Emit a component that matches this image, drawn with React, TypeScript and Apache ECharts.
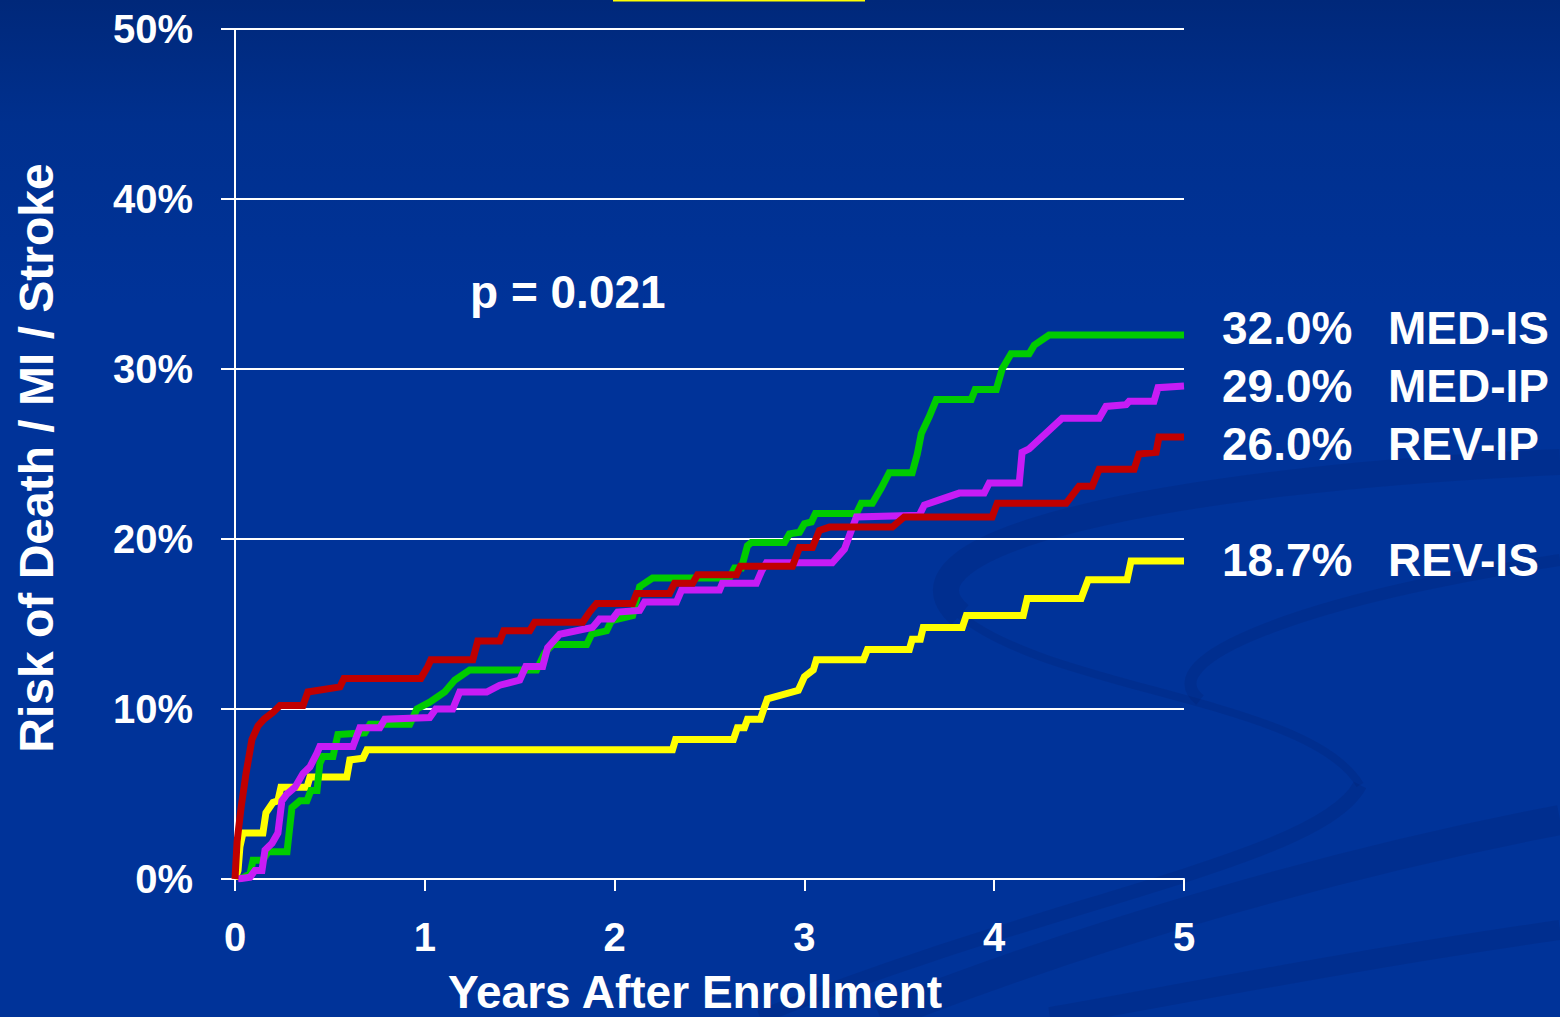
import React, { useEffect, useRef } from "react";
import * as echarts from "echarts";

// ---- Data (years after enrollment, cumulative risk %) ----
const yearTicks = [0, 1, 2, 3, 4, 5];
const riskTicks = [0, 10, 20, 30, 40, 50];

const medIsYears = [0.026, 0.079, 0.095, 0.147, 0.174, 0.274, 0.3, 0.342, 0.379, 0.4, 0.432, 0.447, 0.463, 0.516, 0.542, 0.684, 0.711, 0.921, 0.958, 1.026, 1.105, 1.158, 1.237, 1.589, 1.632, 1.674, 1.853, 1.879, 1.958, 1.984, 2.095, 2.132, 2.2, 2.605, 2.632, 2.668, 2.7, 2.721, 2.895, 2.921, 2.974, 3.0, 3.037, 3.058, 3.274, 3.3, 3.358, 3.405, 3.447, 3.568, 3.595, 3.616, 3.658, 3.695, 3.879, 3.9, 4.011, 4.042, 4.089, 4.184, 4.211, 4.289, 5.0];
const medIsRisk = [0, 0.3, 1.1, 1.1, 1.6, 1.6, 4.2, 4.6, 4.6, 5.2, 5.2, 6.8, 7.2, 7.2, 8.5, 8.6, 9.1, 9.1, 10.0, 10.4, 11.0, 11.7, 12.3, 12.3, 13.3, 13.8, 13.8, 14.4, 14.6, 15.2, 15.5, 17.2, 17.7, 17.7, 18.3, 18.3, 19.6, 19.8, 19.8, 20.3, 20.4, 20.9, 21.0, 21.5, 21.5, 22.1, 22.1, 23.0, 23.9, 23.9, 25.0, 26.2, 27.2, 28.2, 28.2, 28.8, 28.8, 30.0, 30.9, 30.9, 31.4, 32.0, 32.0];

const medIpYears = [0.016, 0.079, 0.105, 0.142, 0.158, 0.195, 0.226, 0.247, 0.274, 0.316, 0.358, 0.395, 0.432, 0.447, 0.621, 0.658, 0.763, 0.789, 1.026, 1.058, 1.147, 1.184, 1.326, 1.395, 1.5, 1.532, 1.621, 1.647, 1.711, 1.884, 1.921, 1.989, 2.016, 2.132, 2.158, 2.326, 2.353, 2.553, 2.568, 2.747, 2.774, 2.8, 3.147, 3.211, 3.247, 3.274, 3.605, 3.632, 3.711, 3.816, 3.947, 3.974, 4.132, 4.147, 4.184, 4.358, 4.553, 4.589, 4.695, 4.711, 4.842, 4.863, 5.0];
const medIpRisk = [0, 0.1, 0.5, 0.5, 1.7, 2.1, 2.7, 4.6, 5.0, 5.4, 6.2, 6.6, 7.4, 7.8, 7.8, 8.9, 8.9, 9.4, 9.5, 10.0, 10.0, 11.0, 11.0, 11.4, 11.7, 12.5, 12.5, 13.6, 14.4, 14.8, 15.3, 15.3, 15.7, 15.8, 16.3, 16.3, 17.0, 17.0, 17.4, 17.4, 18.1, 18.6, 18.6, 19.4, 20.5, 21.3, 21.4, 22.0, 22.3, 22.7, 22.7, 23.3, 23.3, 25.1, 25.3, 27.1, 27.1, 27.8, 27.9, 28.1, 28.1, 28.9, 29.0];

const revIpYears = [0, 0.011, 0.032, 0.058, 0.089, 0.121, 0.153, 0.2, 0.237, 0.358, 0.384, 0.553, 0.574, 0.979, 1.016, 1.032, 1.253, 1.279, 1.395, 1.416, 1.553, 1.579, 1.832, 1.868, 1.905, 2.095, 2.116, 2.289, 2.316, 2.411, 2.437, 2.642, 2.663, 2.937, 2.974, 3.042, 3.079, 3.132, 3.463, 3.526, 3.989, 4.016, 4.379, 4.447, 4.516, 4.553, 4.737, 4.763, 4.853, 4.868, 5.0];
const revIpRisk = [0, 2.2, 4.2, 6.2, 8.2, 9.0, 9.4, 9.8, 10.2, 10.2, 11.0, 11.3, 11.8, 11.8, 12.5, 12.9, 12.9, 14.0, 14.0, 14.6, 14.6, 15.1, 15.1, 15.7, 16.2, 16.2, 16.8, 16.8, 17.4, 17.4, 17.9, 17.9, 18.4, 18.4, 19.5, 19.5, 20.5, 20.7, 20.7, 21.3, 21.3, 22.1, 22.1, 23.1, 23.1, 24.1, 24.1, 25.0, 25.1, 26.0, 26.0];

const revIsYears = [0, 0.016, 0.026, 0.042, 0.147, 0.163, 0.2, 0.226, 0.242, 0.379, 0.395, 0.589, 0.605, 0.674, 0.695, 2.305, 2.321, 2.626, 2.647, 2.684, 2.7, 2.768, 2.789, 2.805, 2.968, 3.0, 3.047, 3.063, 3.311, 3.332, 3.553, 3.568, 3.611, 3.626, 3.832, 3.853, 4.153, 4.174, 4.458, 4.495, 4.7, 4.721, 5.0];
const revIsRisk = [0, 0.5, 1.9, 2.7, 2.7, 3.9, 4.5, 4.6, 5.4, 5.4, 6.0, 6.0, 7.0, 7.1, 7.6, 7.6, 8.2, 8.2, 8.9, 8.9, 9.4, 9.4, 10.1, 10.6, 11.1, 11.9, 12.3, 12.9, 12.9, 13.5, 13.5, 14.1, 14.1, 14.8, 14.8, 15.5, 15.5, 16.5, 16.5, 17.6, 17.6, 18.7, 18.7];

const seriesNames = ["MED-IS", "MED-IP", "REV-IP", "REV-IS"];
const endValues = ["32.0%", "29.0%", "26.0%", "18.7%"];
const pValueText = "p = 0.021";
const xAxisTitle = "Years After Enrollment";
const yAxisTitle = "Risk of Death / MI / Stroke";

const zip = (xs: number[], ys: number[]) => xs.map((x, i) => [x, ys[i]]);

export default function App() {
  const ref = useRef<HTMLDivElement>(null);

  useEffect(() => {
    document.body.style.margin = "0";
    if (!ref.current) return;
    const chart = echarts.init(ref.current, undefined, { renderer: "svg" });
    const font = "'Liberation Sans', Arial, sans-serif";
    const white = "#FFFFFF";

    const mk = (name: string, xs: number[], ys: number[], color: string, z: number) => ({
      name,
      type: "line",
      data: zip(xs, ys),
      showSymbol: false,
      symbol: "none",
      z,
      lineStyle: { color, width: 7, cap: "butt", join: "miter" },
      emphasis: { disabled: true },
    });

    const labelRowsY = [328, 386, 444, 560];
    const endTexts: any[] = [];
    endValues.forEach((v, i) => {
      endTexts.push({
        type: "text", x: 1222, y: labelRowsY[i], z: 20,
        style: { text: v, fill: white, font: `bold 46px ${font}`, textAlign: "left", textVerticalAlign: "middle" },
      });
      endTexts.push({
        type: "text", x: 1388, y: labelRowsY[i], z: 20,
        style: { text: seriesNames[i], fill: white, font: `bold 46px ${font}`, textAlign: "left", textVerticalAlign: "middle" },
      });
    });

    const swoosh = "rgba(0, 30, 105, 0.2)";
    const swooshes = [
      { x1: 1560, y1: 462, cpx1: 1150, cpy1: 480, cpx2: 880, cpy2: 545, x2: 960, y2: 615, w: 26 },
      { x1: 960, y1: 615, cpx1: 1050, cpy1: 690, cpx2: 1310, cpy2: 700, x2: 1360, y2: 785, w: 8 },
      { x1: 1360, y1: 785, cpx1: 1320, cpy1: 860, cpx2: 1050, cpy2: 900, x2: 760, y2: 1017, w: 14 },
      { x1: 880, y1: 1017, cpx1: 1100, cpy1: 930, cpx2: 1350, cpy2: 860, x2: 1560, y2: 820, w: 30 },
      { x1: 1560, y1: 930, cpx1: 1350, cpy1: 960, cpx2: 1150, cpy2: 1000, x2: 1050, y2: 1017, w: 20 },
      { x1: 1560, y1: 560, cpx1: 1300, cpy1: 600, cpx2: 1150, cpy2: 660, x2: 1200, y2: 700, w: 12 },
    ].map((s) => ({
      type: "bezierCurve",
      z: 0,
      silent: true,
      shape: { x1: s.x1, y1: s.y1, x2: s.x2, y2: s.y2, cpx1: s.cpx1, cpy1: s.cpy1, cpx2: s.cpx2, cpy2: s.cpy2 },
      style: { stroke: swoosh, lineWidth: s.w, fill: null },
    }));

    chart.setOption({
      animation: false,
      backgroundColor: {
        type: "linear", x: 0, y: 0, x2: 0, y2: 1,
        colorStops: [
          { offset: 0, color: "#00287A" },
          { offset: 0.12, color: "#00308E" },
          { offset: 0.3, color: "#003399" },
          { offset: 1, color: "#003399" },
        ],
      },
      grid: { left: 235, right: 376, top: 29, bottom: 138, containLabel: false },
      xAxis: {
        type: "value",
        min: yearTicks[0],
        max: yearTicks[yearTicks.length - 1],
        interval: 1,
        axisLine: { show: true, lineStyle: { color: white, width: 2 } },
        axisTick: { show: true, length: 12, lineStyle: { color: white, width: 2 } },
        axisLabel: { color: white, fontFamily: font, fontWeight: "bold", fontSize: 40, margin: 38 },
        splitLine: { show: false },
      },
      yAxis: {
        type: "value",
        min: riskTicks[0],
        max: riskTicks[riskTicks.length - 1],
        interval: 10,
        axisLine: { show: true, lineStyle: { color: white, width: 2 } },
        axisTick: { show: true, length: 14, lineStyle: { color: white, width: 2 } },
        axisLabel: { color: white, fontFamily: font, fontWeight: "bold", fontSize: 40, margin: 42, formatter: "{value}%" },
        splitLine: { show: true, lineStyle: { color: white, width: 2 } },
      },
      series: [
        mk(seriesNames[3], revIsYears, revIsRisk, "#FFFF00", 3),
        mk(seriesNames[0], medIsYears, medIsRisk, "#00CC00", 4),
        mk(seriesNames[1], medIpYears, medIpRisk, "#C71CF5", 5),
        mk(seriesNames[2], revIpYears, revIpRisk, "#C00000", 6),
      ],
      graphic: [
        ...swooshes,
        {
          type: "line", z: 20, silent: true,
          shape: { x1: 613, y1: 0.5, x2: 865, y2: 0.5 },
          style: { stroke: "#FFFF00", lineWidth: 2 },
        },
        {
          type: "text", x: 470, y: 292, z: 20,
          style: { text: pValueText, fill: white, font: `bold 46px ${font}`, textAlign: "left", textVerticalAlign: "middle" },
        },
        {
          type: "text", x: 695, y: 992, z: 20,
          style: { text: xAxisTitle, fill: white, font: `bold 46px ${font}`, textAlign: "center", textVerticalAlign: "middle" },
        },
        {
          type: "text", x: 36, y: 458, z: 20, rotation: Math.PI / 2,
          style: { text: yAxisTitle, fill: white, font: `bold 48px ${font}`, textAlign: "center", textVerticalAlign: "middle" },
        },
        ...endTexts,
      ],
    });

    return () => chart.dispose();
  }, []);

  return <div ref={ref} style={{ width: 1560, height: 1017 }} />;
}
